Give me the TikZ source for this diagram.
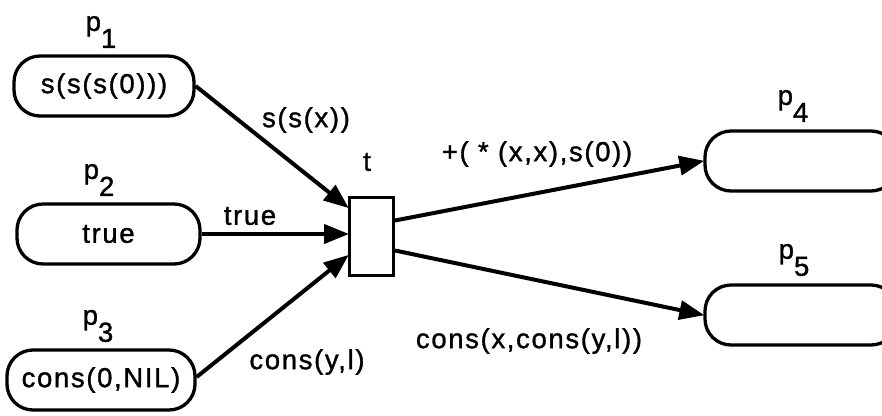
\documentclass[tikz,border=0pt]{standalone}
\usepackage{fontspec}
\setmainfont{Liberation Sans}[LetterSpace=6,FakeBold=1.2]
\usetikzlibrary{arrows.meta,calc}
\newcommand\plab[1]{p\raisebox{-0.62em}{#1}}
\begin{document}
\begin{tikzpicture}[x=1pt,y=-1pt,
  every node/.style={font=\fontsize{27.5}{30}\selectfont, inner sep=0pt},
  place/.style={draw, line width=3.3pt, rounded corners=26pt, minimum height=60pt},
  trans/.style={draw, line width=3pt, minimum width=44pt, minimum height=78pt, fill=white},
  arc/.style={line width=4pt, -{Triangle[length=25pt,width=19pt]}, shorten >=-1pt},
  lbl/.style={anchor=center}
]
\useasboundingbox (0,0) rectangle (882,415);
% places
\node[place, minimum width=180pt] (p1) at (104,86) {s(s(s(0)))};
\node[place, minimum width=183pt] (p2) at (108.5,234) {true};
\node[place, minimum width=188pt] (p3) at (101,380) {cons(0,NIL)};
\node[place, minimum width=192pt] (p4) at (801,161) {};
\node[place, minimum width=192pt] (p5) at (801,315) {};
% transition
\node[trans] (t) at (371.5,236.5) {};
% place labels
\node[lbl] (l1) at (101,32) {\plab{1}};
\node[lbl] (l2) at (99,180) {\plab{2}};
\node[lbl] (l3) at (98,326) {\plab{3}};
\node[lbl] (l4) at (793,106) {\plab{4}};
\node[lbl] (l5) at (794,260) {\plab{5}};
\node[lbl] (lt) at (367,162) {t};
% arcs
\draw[arc] (p1.east) -- ([yshift=29pt]t.west);
\draw[arc] (p2.east) -- (p2.east -| t.west);
\draw[arc] ([yshift=3pt]p3.east) -- ([yshift=-19pt]t.west);
\draw[arc] ([yshift=16pt]t.east) -- (p4.west);
\draw[arc] ([yshift=-14pt]t.east) -- (p5.west);
% arc labels
\node[lbl] (a1) at (306,120) {s(s(x))};
\node[lbl] (a2) at (250,216) {true};
\node[lbl] (a3) at (307,362) {cons(y,l)};
\node[lbl] (a4) at (537,154) {+( * (x,x),s(0))};
\node[lbl] (a5) at (529,341) {cons(x,cons(y,l))};
\end{tikzpicture}
\end{document}
